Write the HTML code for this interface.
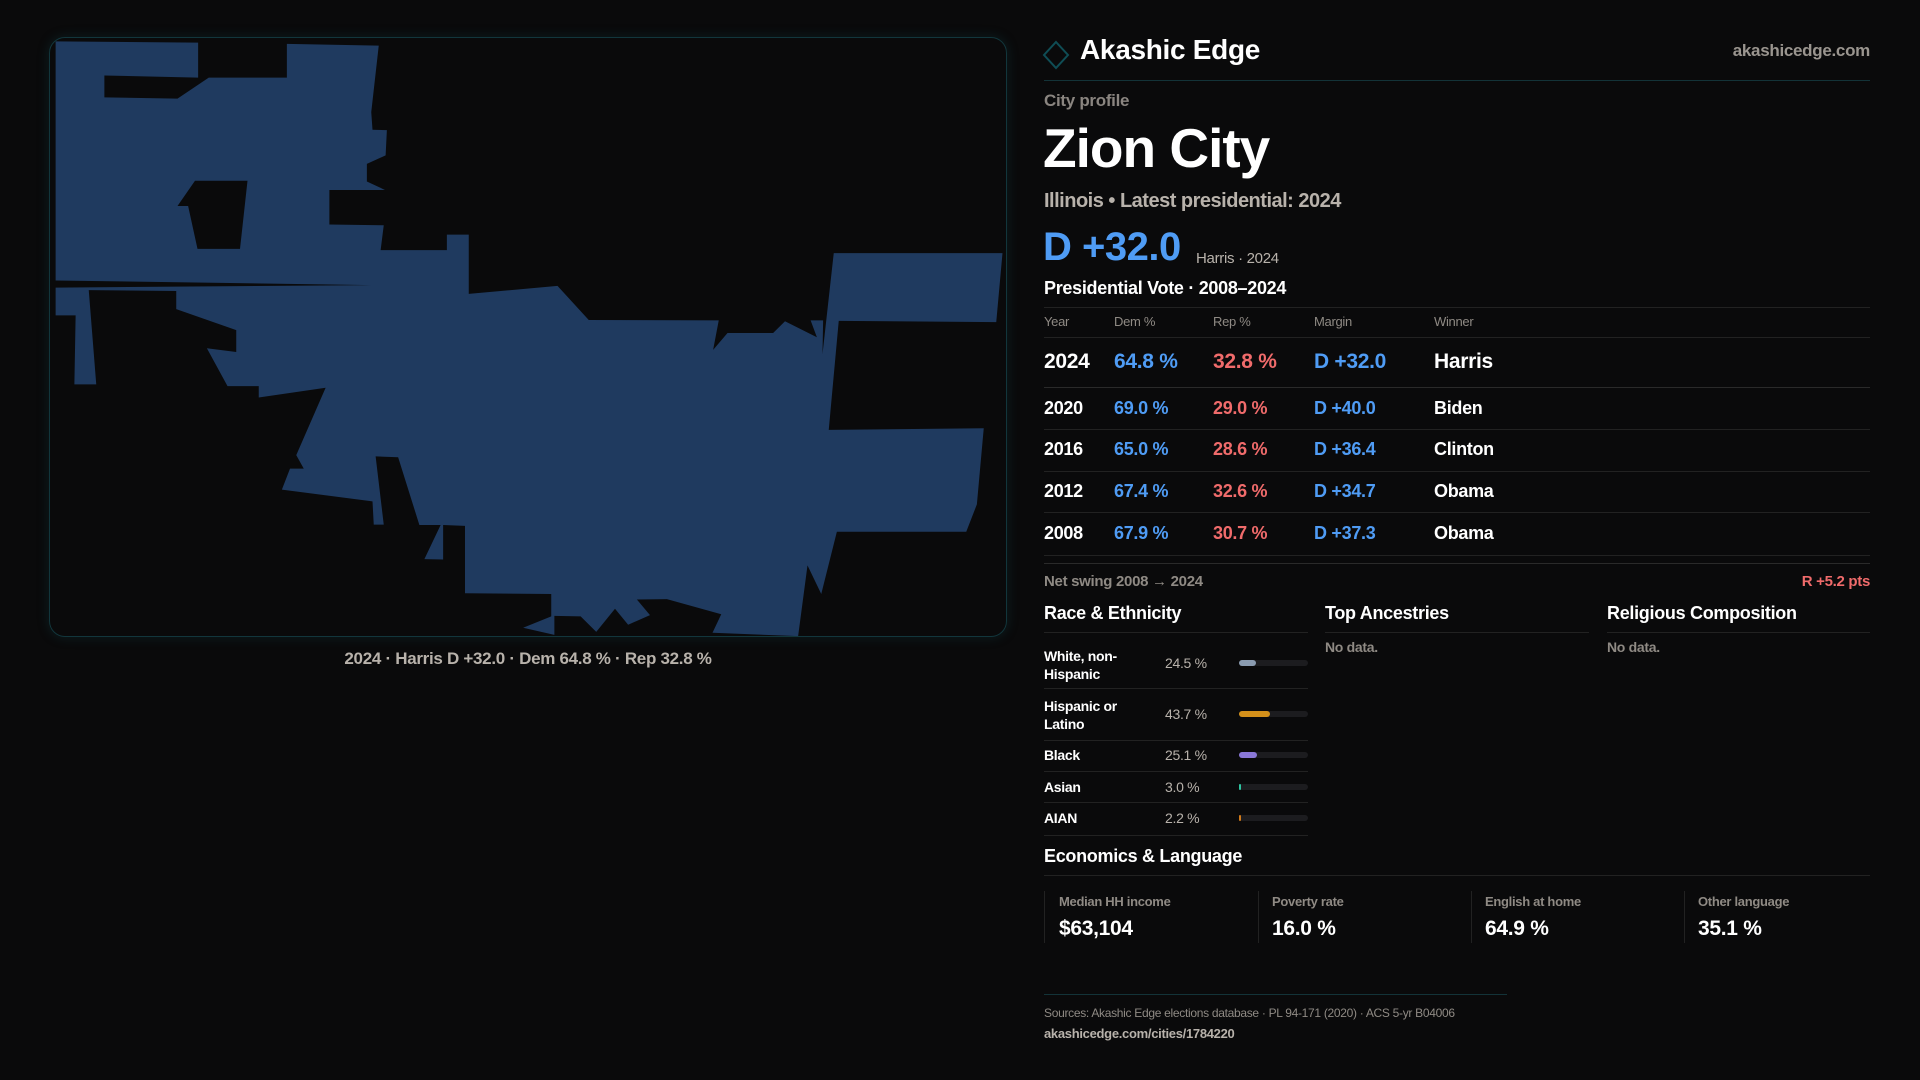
<!DOCTYPE html>
<html><head><meta charset="utf-8"><style>
*{margin:0;padding:0;box-sizing:border-box}
body{width:1920px;height:1080px;background:#0a0a0b;position:relative;overflow:hidden;font-family:"Liberation Sans",sans-serif;color:#fff}
.t{position:absolute;line-height:1;white-space:nowrap;letter-spacing:-0.3px}
.hl{position:absolute;height:1px;background:#222}
.b{font-weight:bold}
.g{color:#8f8a84}
.blue{color:#4f9cf5}
.red{color:#f06b6b}
.bar{position:absolute;left:1239px;width:69px;height:6px;border-radius:3px;background:#1c1c1f}
.bar i{position:absolute;left:0;top:0;height:6px;border-radius:3px}
.vs{position:absolute;width:1px;background:#222;top:891px;height:52px}
</style></head><body>

<div style="position:absolute;left:49px;top:37px;width:958px;height:600px;border:1px solid #12363c;border-radius:16px;box-shadow:0 0 12px rgba(20,90,100,0.25)"></div>
<svg style="position:absolute;left:40px;top:30px" width="980" height="660" viewBox="0 0 1568 1568" preserveAspectRatio="none">
<path fill="#1f3a5f" fill-rule="evenodd" d="M25,27 L253,30 L253,113 L103,108 L103,160 L220,163 L270,113 L395,113 L395,33 L542,37 L530,195 L532,237 L555,238 L553,298 L523,318 L523,360 L552,380 L463,380 L463,462 L550,464 L545,523 L651,523 L651,486 L686,486 L686,627 L828,608 L878,689 L1086,690 L1077,760 L1100,720 L1173,720 L1192,692 L1243,730 L1233,690 L1253,690 L1252,770 L1270,530 L1540,530 L1530,694 L1278,691 L1262,950 L1510,946 L1499,1127 L1482,1192 L1275,1192 L1250,1340 L1228,1272 L1213,1440 L1076,1432 L1090,1388 L1003,1352 L955,1353 L976,1390 L941,1413 L920,1375 L890,1430 L865,1393 L823,1392 L823,1437 L773,1420 L818,1393 L818,1340 L680,1338 L680,1178 L645,1176 L645,1258 L615,1257 L641,1176 L607,1176 L573,1015 L537,1013 L550,1175 L534,1175 L532,1120 L387,1092 L400,1042 L422,1042 L410,1010 L457,850 L350,873 L350,846 L300,846 L267,756 L314,765 L314,713 L218,663 L218,620 L78,618 L90,842 L55,842 L57,678 L25,678 L25,612 L530,606 L25,595 Z M248,358 L332,358 L320,520 L252,520 L237,418 L220,418 Z"/>
</svg>
<div class="t" style="left:0;width:1056px;text-align:center;top:650px;font-size:17px;color:#b8b2ab;font-weight:bold">2024 · Harris D +32.0 · Dem 64.8 % · Rep 32.8 %</div>

<svg style="position:absolute;left:1042px;top:40px" width="28" height="30"><path d="M14,2 L26,15 L14,28 L2,15 Z" fill="none" stroke="#0f4d55" stroke-width="2"/></svg>
<div class="t b" style="left:1080px;top:36px;font-size:28px">Akashic Edge</div>
<div class="t b" style="right:50px;top:42px;font-size:17px;color:#9a958f">akashicedge.com</div>
<div class="hl" style="left:1044px;top:80px;width:826px;background:#133338"></div>

<div class="t b" style="left:1044px;top:92px;font-size:17px;color:#8a8580">City profile</div>
<div class="t b" style="left:1043px;top:121px;font-size:55px;letter-spacing:-1px">Zion City</div>
<div class="t b" style="left:1044px;top:191px;font-size:20px;color:#b8b2ab;letter-spacing:-0.5px">Illinois • Latest presidential: 2024</div>
<div class="t b blue" style="left:1043px;top:227px;font-size:40px;letter-spacing:-0.5px">D +32.0</div>
<div class="t" style="left:1196px;top:251px;font-size:15px;color:#b8b2ab">Harris · 2024</div>
<div class="t b" style="left:1044px;top:279px;font-size:18px">Presidential Vote · 2008–2024</div>

<div class="hl" style="left:1044px;top:307px;width:826px"></div>
<div class="t g" style="left:1044px;top:315px;font-size:13px">Year</div>
<div class="t g" style="left:1114px;top:315px;font-size:13px">Dem %</div>
<div class="t g" style="left:1213px;top:315px;font-size:13px">Rep %</div>
<div class="t g" style="left:1314px;top:315px;font-size:13px">Margin</div>
<div class="t g" style="left:1434px;top:315px;font-size:13px">Winner</div>
<div class="hl" style="left:1044px;top:337px;width:826px"></div>

<div class="t b" style="left:1044px;top:351px;font-size:21px">2024</div>
<div class="t b blue" style="left:1114px;top:351px;font-size:21px">64.8 %</div>
<div class="t b red" style="left:1213px;top:351px;font-size:21px">32.8 %</div>
<div class="t b blue" style="left:1314px;top:351px;font-size:21px">D +32.0</div>
<div class="t b" style="left:1434px;top:351px;font-size:21px">Harris</div>
<div class="hl" style="left:1044px;top:387px;width:826px;background:#2a2a2a"></div>

<div class="t b" style="left:1044px;top:399px;font-size:18px">2020</div>
<div class="t b blue" style="left:1114px;top:399px;font-size:18px">69.0 %</div>
<div class="t b red" style="left:1213px;top:399px;font-size:18px">29.0 %</div>
<div class="t b blue" style="left:1314px;top:399px;font-size:18px">D +40.0</div>
<div class="t b" style="left:1434px;top:399px;font-size:18px">Biden</div>
<div class="hl" style="left:1044px;top:429px;width:826px"></div>

<div class="t b" style="left:1044px;top:440px;font-size:18px">2016</div>
<div class="t b blue" style="left:1114px;top:440px;font-size:18px">65.0 %</div>
<div class="t b red" style="left:1213px;top:440px;font-size:18px">28.6 %</div>
<div class="t b blue" style="left:1314px;top:440px;font-size:18px">D +36.4</div>
<div class="t b" style="left:1434px;top:440px;font-size:18px">Clinton</div>
<div class="hl" style="left:1044px;top:471px;width:826px"></div>

<div class="t b" style="left:1044px;top:482px;font-size:18px">2012</div>
<div class="t b blue" style="left:1114px;top:482px;font-size:18px">67.4 %</div>
<div class="t b red" style="left:1213px;top:482px;font-size:18px">32.6 %</div>
<div class="t b blue" style="left:1314px;top:482px;font-size:18px">D +34.7</div>
<div class="t b" style="left:1434px;top:482px;font-size:18px">Obama</div>
<div class="hl" style="left:1044px;top:512px;width:826px"></div>

<div class="t b" style="left:1044px;top:524px;font-size:18px">2008</div>
<div class="t b blue" style="left:1114px;top:524px;font-size:18px">67.9 %</div>
<div class="t b red" style="left:1213px;top:524px;font-size:18px">30.7 %</div>
<div class="t b blue" style="left:1314px;top:524px;font-size:18px">D +37.3</div>
<div class="t b" style="left:1434px;top:524px;font-size:18px">Obama</div>
<div class="hl" style="left:1044px;top:555px;width:826px"></div>
<div class="hl" style="left:1044px;top:563px;width:826px;background:#2a2a2a"></div>

<div class="t b g" style="left:1044px;top:574px;font-size:15px">Net swing 2008 → 2024</div>
<div class="t b red" style="right:50px;top:574px;font-size:15px">R +5.2 pts</div>

<div class="t b" style="left:1044px;top:604px;font-size:18px">Race &amp; Ethnicity</div>
<div class="t b" style="left:1325px;top:604px;font-size:18px">Top Ancestries</div>
<div class="t b" style="left:1607px;top:604px;font-size:18px">Religious Composition</div>
<div class="hl" style="left:1044px;top:632px;width:264px"></div>
<div class="hl" style="left:1325px;top:632px;width:264px"></div>
<div class="hl" style="left:1607px;top:632px;width:263px"></div>
<div class="t b g" style="left:1325px;top:640px;font-size:14px">No data.</div>
<div class="t b g" style="left:1607px;top:640px;font-size:14px">No data.</div>

<div class="t b" style="left:1044px;top:647px;font-size:14px;line-height:18px">White, non-<br>Hispanic</div>
<div class="t" style="left:1165px;top:656px;font-size:14px;color:#b8b2ab">24.5 %</div>
<div class="bar" style="top:660px"><i style="width:17px;background:#8a9bb0"></i></div>
<div class="hl" style="left:1044px;top:688px;width:264px"></div>
<div class="t b" style="left:1044px;top:697px;font-size:14px;line-height:18px">Hispanic or<br>Latino</div>
<div class="t" style="left:1165px;top:707px;font-size:14px;color:#b8b2ab">43.7 %</div>
<div class="bar" style="top:711px"><i style="width:31px;background:#d4901a"></i></div>
<div class="hl" style="left:1044px;top:740px;width:264px"></div>
<div class="t b" style="left:1044px;top:748px;font-size:14px">Black</div>
<div class="t" style="left:1165px;top:748px;font-size:14px;color:#b8b2ab">25.1 %</div>
<div class="bar" style="top:752px"><i style="width:18px;background:#8a78d8"></i></div>
<div class="hl" style="left:1044px;top:771px;width:264px"></div>
<div class="t b" style="left:1044px;top:780px;font-size:14px">Asian</div>
<div class="t" style="left:1165px;top:780px;font-size:14px;color:#b8b2ab">3.0 %</div>
<div class="bar" style="top:784px"><i style="width:2px;background:#2ec4a0"></i></div>
<div class="hl" style="left:1044px;top:802px;width:264px"></div>
<div class="t b" style="left:1044px;top:811px;font-size:14px">AIAN</div>
<div class="t" style="left:1165px;top:811px;font-size:14px;color:#b8b2ab">2.2 %</div>
<div class="bar" style="top:815px"><i style="width:2px;background:#d07a1a"></i></div>
<div class="hl" style="left:1044px;top:835px;width:264px"></div>

<div class="t b" style="left:1044px;top:847px;font-size:18px">Economics &amp; Language</div>
<div class="hl" style="left:1044px;top:875px;width:826px"></div>
<div class="vs" style="left:1044px"></div><div class="vs" style="left:1258px"></div><div class="vs" style="left:1471px"></div><div class="vs" style="left:1684px"></div>
<div class="t b g" style="left:1059px;top:895px;font-size:13px">Median HH income</div>
<div class="t b g" style="left:1272px;top:895px;font-size:13px">Poverty rate</div>
<div class="t b g" style="left:1485px;top:895px;font-size:13px">English at home</div>
<div class="t b g" style="left:1698px;top:895px;font-size:13px">Other language</div>
<div class="t b" style="left:1059px;top:918px;font-size:21px">$63,104</div>
<div class="t b" style="left:1272px;top:918px;font-size:21px">16.0 %</div>
<div class="t b" style="left:1485px;top:918px;font-size:21px">64.9 %</div>
<div class="t b" style="left:1698px;top:918px;font-size:21px">35.1 %</div>

<div class="hl" style="left:1044px;top:994px;width:463px;background:#133338"></div>
<div class="t g" style="left:1044px;top:1007px;font-size:12px">Sources: Akashic Edge elections database · PL 94-171 (2020) · ACS 5-yr B04006</div>
<div class="t b" style="left:1044px;top:1027px;font-size:13px;color:#b8b2ab">akashicedge.com/cities/1784220</div>
</body></html>
